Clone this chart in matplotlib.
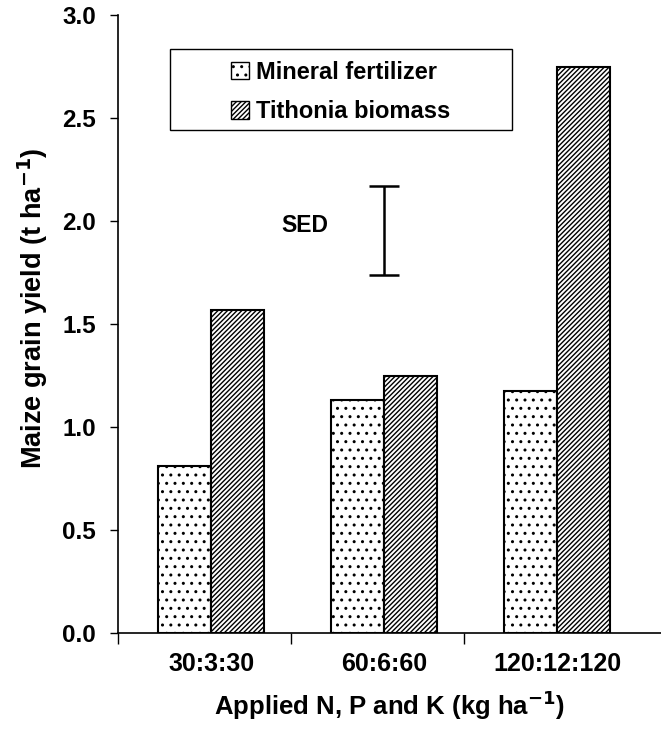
import matplotlib
matplotlib.use("Agg")
import matplotlib.pyplot as plt
import numpy as np
from matplotlib.patches import Patch, Rectangle

plt.rcParams['font.family'] = ['Liberation Sans', 'DejaVu Sans']
plt.rcParams['font.weight'] = 'bold'
plt.rcParams['hatch.linewidth'] = 1.0
plt.rcParams['mathtext.default'] = 'bf'

categories = ['30:3:30', '60:6:60', '120:12:120']
mineral = [0.81, 1.13, 1.175]
tithonia = [1.57, 1.25, 2.75]
series_names = ['Mineral fertilizer', 'Tithonia biomass']
sed_center = 1.955
sed_half = 0.215

fig = plt.figure(figsize=(6.61, 7.40), dpi=100)
ax = fig.add_axes([0.1785, 0.1446, 1.0 - 0.1785, 0.9797 - 0.1446])

x = np.arange(len(categories))
w = 0.306
ax.bar(x - w / 2, mineral, w, facecolor='white', edgecolor='black', hatch='..', linewidth=1.5)
ax.bar(x + w / 2, tithonia, w, facecolor='white', edgecolor='black', hatch='///////', linewidth=1.5)

ax.set_ylim(0, 3.0)
ax.set_xlim(-0.538, 2.60)
yt = np.arange(0, 3.01, 0.5)
ax.set_yticks(yt)
ax.set_yticklabels([f'{v:.1f}' for v in yt], fontsize=17.5, fontweight='bold')
ax.set_xticks(x - 0.538)
ax.set_xticklabels([])
ax.set_xticks(x, minor=True)
ax.set_xticklabels(categories, minor=True, fontsize=18, fontweight='bold')
ax.tick_params(axis='x', which='minor', length=0, pad=14)
ax.tick_params(axis='x', which='major', direction='out', length=8, width=1)
ax.tick_params(axis='y', direction='out', length=6, width=1, pad=10)

for s in ['top', 'right']:
    ax.spines[s].set_visible(False)
ax.spines['left'].set_linewidth(1.2)
ax.spines['bottom'].set_linewidth(1.2)

ax_w = 661 * (1.0 - 0.1785)
ax_h = 740 * (0.9797 - 0.1446)

ax.set_ylabel('Maize grain yield (t ha$^{-1}$)', fontsize=19.5, fontweight='bold')
ax.yaxis.set_label_coords((50 - 118) / ax_w, 0.525)
ax.set_xlabel('Applied N, P and K (kg ha$^{-1}$)', fontsize=18.5, fontweight='bold', labelpad=9)

# SED bar
ax.errorbar([1.0], [sed_center], yerr=[sed_half], fmt='none', ecolor='black', elinewidth=1.8, capsize=11, capthick=1.8)
ax.text(0.54, 1.98, 'SED', fontsize=16.5, fontweight='bold', ha='center', va='center')

# legend frame box (axes fraction)
bx0 = (170 - 118) / ax_w
bx1 = (512 - 118) / ax_w
by1 = (633 - 49) / ax_h
by0 = (633 - 130) / ax_h
ax.add_patch(Rectangle((bx0, by0), bx1 - bx0, by1 - by0, transform=ax.transAxes,
                       facecolor='white', edgecolor='black', linewidth=1.0, zorder=4))

handles = [Patch(facecolor='white', edgecolor='black', hatch='..'),
           Patch(facecolor='white', edgecolor='black', hatch='///////')]
leg = ax.legend(handles, series_names, loc='center',
                bbox_to_anchor=((bx0 + bx1) / 2, (633 - 92) / ax_h),
                prop={'weight': 'bold', 'size': 17}, frameon=False,
                handlelength=0.75, handleheight=0.75, handletextpad=0.3,
                borderpad=0.0, borderaxespad=0.0, labelspacing=0.7)
leg.set_zorder(5)

fig.savefig('out.png', dpi=100)
